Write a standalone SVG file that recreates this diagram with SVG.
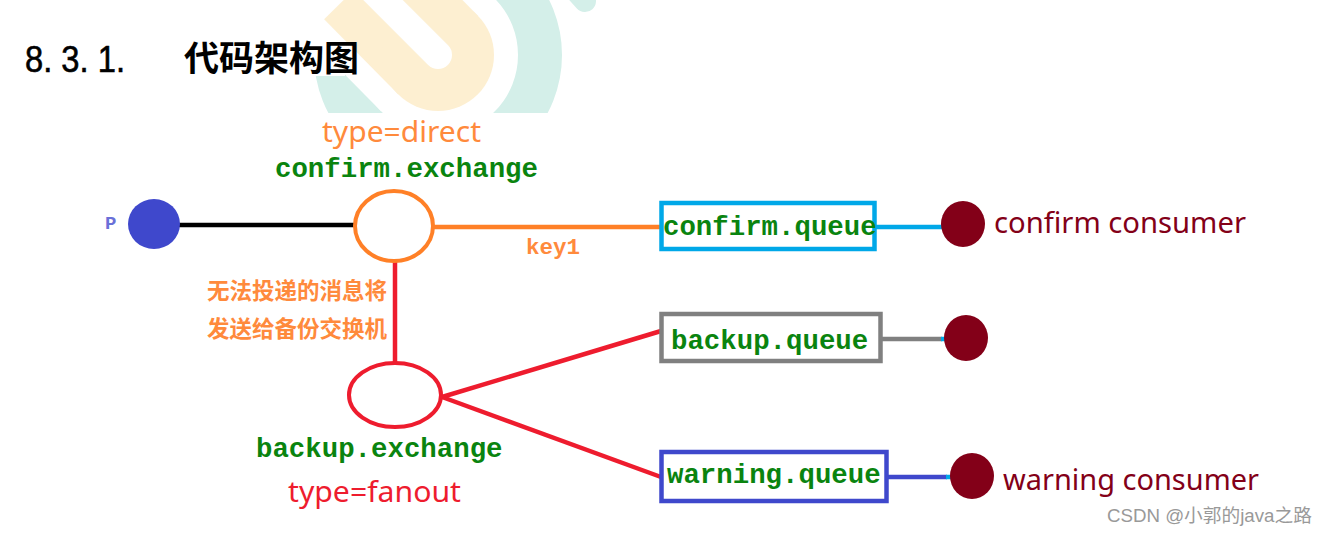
<svg xmlns="http://www.w3.org/2000/svg" width="1329" height="535" viewBox="0 0 1329 535">
<style>
.mono{font-family:"Liberation Mono",monospace;font-weight:700;font-size:27.4px;fill:#0a840f}
.sans{font-family:"Noto Sans","Open Sans",sans-serif;font-size:29px}
.cn{font-family:"Noto Sans CJK SC",sans-serif;font-weight:700;font-size:22.500px;fill:#ff8a3c}
.ln{fill:none;stroke-width:4.5}
.dark{fill:#830018}
.q{fill:#fff;stroke-width:4.5}
</style>
<defs><clipPath id="wm"><rect x="300" y="0" width="310" height="113"/></clipPath></defs>
<rect width="1329" height="535" fill="#fff"/>
<g id="watermark" clip-path="url(#wm)">
<circle cx="438" cy="55" r="102" fill="none" stroke="#d4efe9" stroke-width="44"/>
<line x1="575" y1="-10" x2="585" y2="1" stroke="#d4efe9" stroke-width="22" stroke-linecap="round"/>
<line x1="364" y1="-20" x2="438" y2="55" stroke="#fff" stroke-width="160"/>
<rect x="300" y="0" width="45" height="76" fill="#fff"/>
<line x1="364" y1="-20" x2="438" y2="55" stroke="#fdefd1" stroke-width="112"/>
<circle cx="438" cy="55" r="56" fill="#fdefd1"/>
<line x1="360" y1="-23" x2="438" y2="55" stroke="#fff" stroke-width="28" stroke-linecap="round"/>
</g>
<text x="25" y="72" font-family="Liberation Sans,sans-serif" font-size="36" textLength="100" lengthAdjust="spacingAndGlyphs" fill="#000" stroke="#000" stroke-width="0.6">8. 3. 1.</text>
<text x="184" y="71" font-family="Noto Sans CJK SC,sans-serif" font-weight="700" font-size="35" fill="#000">代码架构图</text>
<g id="connectors">
<line class="ln" x1="178" y1="225" x2="354" y2="225" stroke="#000"/>
<line class="ln" x1="434" y1="227" x2="660" y2="227" stroke="#ff8027"/>
<line class="ln" x1="875" y1="227" x2="943" y2="227" stroke="#00a8e8"/>
<line class="ln" x1="395" y1="260" x2="395" y2="363" stroke="#ee1c2e"/>
<line class="ln" x1="442" y1="397" x2="661" y2="331" stroke="#ee1c2e"/>
<line class="ln" x1="442" y1="397" x2="661" y2="477" stroke="#ee1c2e"/>
<line class="ln" x1="881" y1="339" x2="942" y2="339" stroke="#808080"/>
<line class="ln" x1="941" y1="339" x2="946" y2="339" stroke="#00a8e8"/>
<line class="ln" x1="887" y1="477" x2="947" y2="477" stroke="#3f48cc"/>
<line class="ln" x1="946" y1="477" x2="951" y2="477" stroke="#00a8e8"/>
</g>
<g id="p"><ellipse cx="154" cy="224" rx="26" ry="25" fill="#3f48cc"/><text x="105" y="229" font-family="Liberation Mono,monospace" font-weight="700" font-size="19" fill="#6a70d8">P</text></g>
<g id="confirm-exchange">
<ellipse cx="394" cy="226" rx="39" ry="35" fill="#fff" stroke="#ff8027" stroke-width="4"/>
<text x="322" y="142" class="sans" fill="#ff8a3c" textLength="159" lengthAdjust="spacingAndGlyphs">type=direct</text>
<text x="275" y="177" class="mono">confirm.exchange</text>
</g>
<text x="526" y="254" font-family="Liberation Mono,monospace" font-weight="700" font-size="22.500" fill="#ff8a3c">key1</text>
<g id="note"><text x="207" y="299" class="cn">无法投递的消息将</text><text x="207" y="337" class="cn">发送给备份交换机</text></g>
<g id="backup-exchange">
<ellipse cx="395" cy="395" rx="46" ry="32" fill="#fff" stroke="#ee1c2e" stroke-width="4"/>
<text x="256" y="457" class="mono">backup.exchange</text>
<text x="288" y="502" class="sans" fill="#ee1c2e" textLength="173" lengthAdjust="spacingAndGlyphs">type=fanout</text>
</g>
<g id="confirm-queue"><rect class="q" x="661.500" y="203" width="213" height="46" stroke="#00a8e8"/><text x="663" y="235" class="mono">confirm.queue</text></g>
<g id="backup-queue"><rect class="q" x="661.500" y="314" width="219" height="47" stroke="#808080"/><text x="671" y="349" class="mono">backup.queue</text></g>
<g id="warning-queue"><rect class="q" x="661.500" y="452" width="225" height="49" stroke="#3f48cc"/><text x="667" y="483" class="mono">warning.queue</text></g>
<g id="confirm-consumer"><ellipse class="dark" cx="963" cy="224" rx="22" ry="23"/><text x="994" y="233" class="sans dark" textLength="252" lengthAdjust="spacingAndGlyphs">confirm consumer</text></g>
<g id="backup-consumer"><ellipse class="dark" cx="966" cy="338" rx="22" ry="23"/></g>
<g id="warning-consumer"><ellipse class="dark" cx="972" cy="476" rx="22" ry="23"/><text x="1003" y="490" class="sans dark" textLength="256" lengthAdjust="spacingAndGlyphs">warning consumer</text></g>
<text x="1107" y="522" font-family="Liberation Sans,Noto Sans CJK SC,sans-serif" font-size="18.700" fill="#999">CSDN @小郭的java之路</text>
</svg>
